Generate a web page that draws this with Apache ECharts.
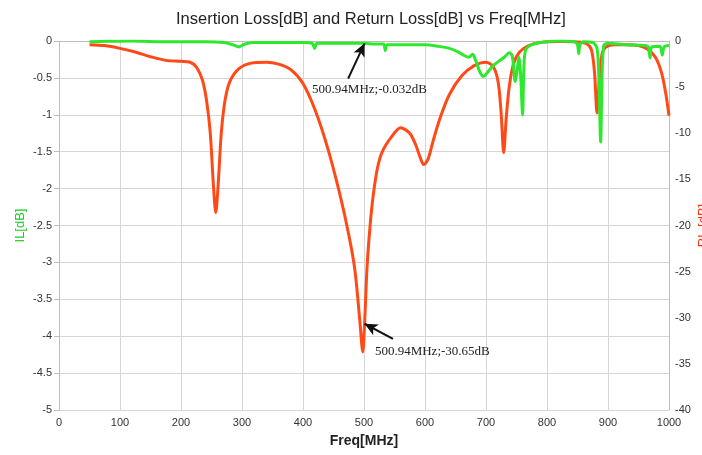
<!DOCTYPE html>
<html>
<head>
<meta charset="utf-8">
<script src="https://cdn.jsdelivr.net/npm/echarts@6/dist/echarts.min.js"></script>
<style>
  html, body { margin: 0; padding: 0; background: #ffffff; }
  #chart { width: 702px; height: 455px; }
</style>
</head>
<body>
<div id="chart"></div>
<script>
// Insertion loss (S21) sweep: frequency [MHz] and IL [dB]
const ilFreq = [50, 80, 120, 160, 200, 240, 270, 285, 295, 305, 320, 360, 400, 415, 419, 423, 450, 480,
  500.94, 520, 532, 535, 538, 560, 580, 600, 620, 640, 655, 665, 672, 678, 683, 690, 696, 703, 712, 720,
  730, 738, 743, 748, 751, 754, 757, 760, 762, 765, 775, 790, 820, 845, 850, 852, 854, 860, 875, 882, 885,
  888, 890, 893, 900, 930, 960, 966, 969, 972, 985, 989, 992, 1000];
const ilValues = [-0.01, -0.005, 0.0, -0.01, -0.01, -0.01, -0.02, -0.05, -0.08, -0.04, -0.02, -0.02, -0.02, -0.03, -0.1, -0.03, -0.03, -0.03,
  -0.032, -0.04, -0.04, -0.13, -0.05, -0.05, -0.05, -0.05, -0.07, -0.1, -0.15, -0.2, -0.22, -0.18, -0.26, -0.42, -0.48, -0.42, -0.33, -0.28,
  -0.22, -0.16, -0.2, -0.55, -0.4, -0.22, -0.5, -1.0, -0.4, -0.12, -0.05, -0.02, 0.0, -0.01, -0.05, -0.17, -0.05, -0.01, -0.02, -0.1, -0.5,
  -1.37, -0.6, -0.06, -0.03, -0.05, -0.06, -0.08, -0.23, -0.08, -0.07, -0.19, -0.08, -0.06];

// Return loss (S11) sweep: frequency [MHz] and RL [dB]
const rlFreq = [50, 75, 100, 125, 150, 175, 200, 215, 225, 235, 242, 248, 253, 257, 261, 266, 272, 280, 295,
  315, 340, 360, 380, 400, 420, 440, 460, 475, 485, 493, 498, 500.94, 505, 510, 515, 522, 530, 545, 560,
  575, 585, 592, 598, 605, 613, 625, 640, 660, 680, 700, 712, 720, 725, 729, 733, 738, 745, 755, 770, 790,
  820, 850, 865, 873, 878, 882, 886, 890, 896, 910, 930, 950, 965, 978, 988, 995, 1000];
const rlValues = [-0.4, -0.5, -0.8, -1.2, -1.7, -2.1, -2.2, -2.3, -2.8, -4.2, -6.5, -10, -15.5, -18.6, -15.5, -10, -6.5, -4.4, -3.0,
  -2.4, -2.3, -2.5, -3.1, -4.6, -7.5, -11.5, -16.5, -21, -24.8, -30.2, -33.7, -30.65, -24.5, -20, -16.8, -13.8, -12, -10.4, -9.4,
  -10, -11.3, -12.6, -13.4, -12.8, -10.9, -8.3, -5.8, -3.8, -2.7, -2.3, -2.8, -4.5, -8, -12.1, -8.5, -5, -2.5, -1.2, -0.5, -0.15,
  -0.05, -0.1, -0.3, -1.0, -3.5, -7.8, -4, -1.5, -0.7, -0.4, -0.4, -0.5, -0.9, -1.8, -3.5, -5.8, -8.1];

// Marker readouts and where their arrow tails sit
const markerFreq = 500.94;
const markerIL = -0.032;
const markerRL = -30.65;
const ilArrowTail = [474, -0.51];
const rlArrowTail = [547.5, -32.3];

// Axis ranges and tick steps
const freqMin = 0, freqMax = 1000, freqStep = 100;
const ilMin = -5, ilMax = 0, ilStep = 0.5;
const rlMin = -40, rlMax = 0, rlStep = 5;

const pairs = (xs, ys) => xs.map((x, i) => [x, ys[i]]);

const FONT = '"Liberation Sans", Arial, sans-serif';
const SERIF = '"Liberation Serif", "Times New Roman", serif';
const GREEN = '#2ee82e';
const RED = '#ff4a18';

function arrowLine(tail) {
  return {
    silent: true,
    symbol: ['arrow', 'none'],
    symbolSize: [9, 13],
    label: { show: false },
    lineStyle: { color: '#111', width: 2, type: 'solid' },
    emphasis: { disabled: true },
    data: [[{ coord: [markerFreq, null] }, { coord: tail }]]
  };
}

const ilMarkLine = arrowLine(ilArrowTail);
ilMarkLine.data[0][0].coord[1] = markerIL;
const rlMarkLine = arrowLine(rlArrowTail);
rlMarkLine.data[0][0].coord[1] = markerRL;

function readout(tail, text, offset) {
  return {
    silent: true,
    symbol: 'circle',
    symbolSize: 0.1,
    itemStyle: { color: 'rgba(0,0,0,0)' },
    data: [{
      coord: tail,
      label: {
        show: true,
        formatter: text,
        position: offset,
        fontFamily: SERIF,
        fontSize: 13,
        color: '#222',
        align: 'left',
        verticalAlign: 'middle'
      }
    }]
  };
}

const plainNumber = v => String(v);

const chart = echarts.init(document.getElementById('chart'), null, { renderer: 'canvas' });

chart.setOption({
  animation: false,
  backgroundColor: '#ffffff',
  title: {
    text: 'Insertion Loss[dB] and Return Loss[dB] vs Freq[MHz]',
    left: 171,
    top: 6,
    textStyle: { fontFamily: FONT, fontSize: 16.5, fontWeight: 'normal', color: '#222' }
  },
  grid: { left: 59, right: 33, top: 41, bottom: 45, containLabel: false, outerBoundsMode: 'none' },
  xAxis: {
    type: 'value',
    min: freqMin, max: freqMax, interval: freqStep,
    name: 'Freq[MHz]',
    nameLocation: 'middle',
    nameGap: 24,
    nameMoveOverlap: false,
    nameTextStyle: { fontFamily: FONT, fontSize: 14, fontWeight: 'bold', color: '#222' },
    axisLine: { lineStyle: { color: '#bdbdbd' } },
    axisTick: { show: false },
    axisLabel: { fontFamily: FONT, fontSize: 11, color: '#333', margin: 7, formatter: plainNumber },
    splitLine: { lineStyle: { color: '#d6d6d6' } }
  },
  yAxis: [
    {
      type: 'value',
      position: 'left',
      min: ilMin, max: ilMax, interval: ilStep,
      name: 'IL[dB]',
      nameLocation: 'middle',
      nameGap: 32,
      nameRotate: 90,
      nameMoveOverlap: false,
      nameTextStyle: { fontFamily: FONT, fontSize: 13, color: '#22cc22' },
      axisLine: { show: true, lineStyle: { color: '#bdbdbd' } },
      axisTick: { show: true, length: 5, lineStyle: { color: '#bdbdbd' } },
      axisLabel: { fontFamily: FONT, fontSize: 11, color: '#333', margin: 7, formatter: plainNumber },
      splitLine: { lineStyle: { color: '#d6d6d6' } }
    },
    {
      type: 'value',
      position: 'right',
      min: rlMin, max: rlMax, interval: rlStep,
      name: 'RL [dB]',
      nameLocation: 'middle',
      nameGap: 28,
      nameRotate: 90,
      nameMoveOverlap: false,
      nameTextStyle: { fontFamily: FONT, fontSize: 13, color: '#ff3311' },
      axisLine: { show: true, lineStyle: { color: '#bdbdbd' } },
      axisTick: { show: false },
      axisLabel: { fontFamily: FONT, fontSize: 11, color: '#333', margin: 6, formatter: plainNumber },
      splitLine: { show: false }
    }
  ],
  series: [
    {
      name: 'RL',
      type: 'line',
      yAxisIndex: 1,
      data: pairs(rlFreq, rlValues),
      showSymbol: false,
      smooth: 0.3,
      lineStyle: { color: RED, width: 3 },
      itemStyle: { color: RED },
      z: 2,
      markLine: rlMarkLine,
      markPoint: readout(rlArrowTail, markerFreq.toFixed(2) + 'MHz;' + markerRL + 'dB', [-18, 13])
    },
    {
      name: 'IL',
      type: 'line',
      yAxisIndex: 0,
      data: pairs(ilFreq, ilValues),
      showSymbol: false,
      smooth: 0.3,
      lineStyle: { color: GREEN, width: 3 },
      itemStyle: { color: GREEN },
      z: 3,
      markLine: ilMarkLine,
      markPoint: readout(ilArrowTail, markerFreq.toFixed(2) + 'MHz;' + markerIL + 'dB', [-36, 11])
    }
  ]
});
</script>
</body>
</html>
